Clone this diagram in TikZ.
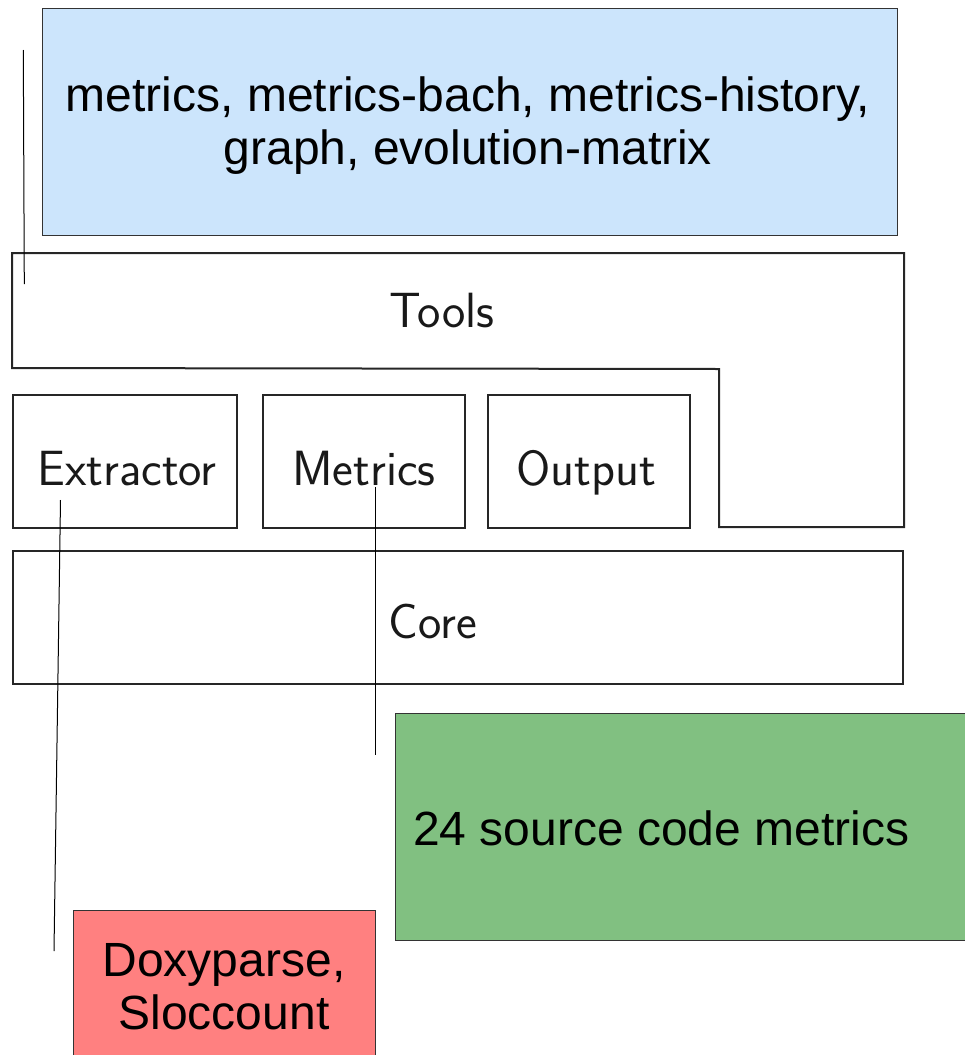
\documentclass[tikz,border=0pt]{standalone}
\usepackage{fontspec}
\newfontfamily\labelfont{Liberation Sans}
\begin{document}
\begin{tikzpicture}[x=1pt,y=-1pt,
  layer/.style={draw=black!85, line width=2pt, fill=white, inner sep=0pt, anchor=north west},
  layertext/.style={font=\sffamily\fontsize{49.5}{58}\selectfont, text=black!90, anchor=base, inner sep=0pt},
  note/.style={draw=black!80, line width=0.9pt, inner sep=0pt, anchor=north west},
  notetext/.style={font=\labelfont\fontsize{48}{53}\selectfont, align=center, text=black},
  pointer/.style={draw=black, line width=1pt}]
\clip (0,0) rectangle (965,1055);

% descriptive notes
\node[note, fill={rgb,255:red,204;green,229;blue,252}, minimum width=855pt, minimum height=227pt] (toolsnote) at (42,8) {};
\node[notetext] at (468,126) {metrics, metrics-bach, metrics-history,\\graph, evolution-matrix};

\node[note, fill={rgb,255:red,129;green,192;blue,129}, minimum width=580pt, minimum height=227pt] (metricsnote) at (395,713) {};
\node[notetext, anchor=west, inner sep=0pt] at (413,828) {24 source code metrics};

\node[note, fill={rgb,255:red,255;green,128;blue,128}, minimum width=302pt, minimum height=160pt] (extractornote) at (73,910) {};
\node[notetext] at (224,987) {Doxyparse,\\Sloccount};

% Tools layer (L-shaped)
\draw[draw=black!85, line width=2pt, line join=miter]
  (12,253) -- (904,253) -- (904,527) -- (719,527) -- (719,369) -- (12,368) -- cycle;
\node[layertext] (tools) at (442,327) {Tools};

% modules
\node[layer, minimum width=224pt, minimum height=133pt] (extractor) at (12,394) {};
\node[layertext] at (127,485) {Extractor};
\node[layer, minimum width=202pt, minimum height=133pt] (metrics) at (262,394) {};
\node[layertext] at (364,485) {Metrics};
\node[layer, minimum width=202pt, minimum height=133pt] (output) at (487,394) {};
\node[layertext] at (586,485) {Output};

% Core layer
\node[layer, minimum width=890pt, minimum height=133pt] (core) at (12,550) {};
\node[layertext] at (433,638) {Core};

% pointers from the notes to the components
\coordinate (tA) at (23.3,50);
\coordinate (tB) at (24.3,284);
\coordinate (eA) at (60.5,500);
\coordinate (eB) at (54,951);
\coordinate (mA) at (375,487);
\coordinate (mB) at (375,755);
\draw[pointer] (tA) -- (tB);
\draw[pointer] (eA) -- (eB);
\draw[pointer] (mA) -- (mB);
\end{tikzpicture}
\end{document}
